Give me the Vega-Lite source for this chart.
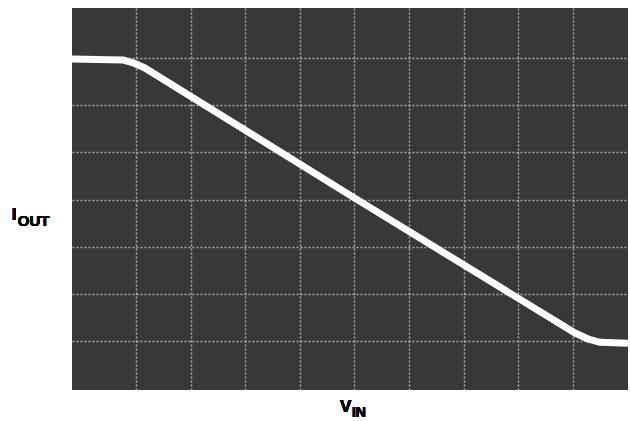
{
  "$schema": "https://vega.github.io/schema/vega-lite/v6.json",
  "width": 556,
  "height": 382,
  "autosize": {"type": "none"},
  "padding": {"left": 72, "top": 8, "right": 2, "bottom": 31},
  "background": "white",
  "config": {
    "view": {"fill": "#383838", "stroke": null},
    "axis": {"labels": false, "ticks": false, "domain": false, "grid": true, "gridColor": "#d0d0d0", "gridWidth": 1.5, "gridDash": [2, 2], "gridOpacity": 0.75}
  },
  "data": {
    "values": [
      {"v": -0.17, "i": 6.98},
      {"v": 0.76, "i": 6.96},
      {"v": 0.95, "i": 6.9},
      {"v": 1.165, "i": 6.79},
      {"v": 4.97, "i": 4.06},
      {"v": 9.04, "i": 1.176},
      {"v": 9.3, "i": 1.04},
      {"v": 9.5, "i": 0.98},
      {"v": 10.01, "i": 0.96}
    ]
  },
  "layer": [
    {
      "mark": {"type": "line", "color": "white", "strokeWidth": 7, "clip": true, "strokeJoin": "round", "strokeCap": "butt"},
      "encoding": {
        "x": {"field": "v", "type": "quantitative", "scale": {"domain": [-0.17, 10.01], "nice": false, "zero": false}, "axis": {"title": null, "values": [1, 2, 3, 4, 5, 6, 7, 8, 9]}},
        "y": {"field": "i", "type": "quantitative", "scale": {"domain": [-0.03, 8.06], "nice": false, "zero": false}, "axis": {"title": null, "values": [1, 2, 3, 4, 5, 6, 7]}}
      }
    },
    {
      "mark": {"type": "text", "font": "Liberation Sans", "fontWeight": "bold", "fontSize": 17, "align": "left", "baseline": "alphabetic", "color": "black"},
      "encoding": {"x": {"datum": -1.271, "title": null}, "y": {"datum": 3.57, "title": null}, "text": {"value": "I"}}
    },
    {
      "mark": {"type": "text", "font": "Liberation Sans", "fontWeight": "bold", "fontSize": 15, "align": "left", "baseline": "alphabetic", "color": "black"},
      "encoding": {"x": {"datum": -1.161, "title": null}, "y": {"datum": 3.443, "title": null}, "text": {"value": "OUT"}}
    },
    {
      "mark": {"type": "text", "font": "Liberation Sans", "fontWeight": "bold", "fontSize": 17, "align": "left", "baseline": "alphabetic", "color": "black"},
      "encoding": {"x": {"datum": 4.736, "title": null}, "y": {"datum": -0.498, "title": null}, "text": {"value": "V"}}
    },
    {
      "mark": {"type": "text", "font": "Liberation Sans", "fontWeight": "bold", "fontSize": 14, "align": "left", "baseline": "alphabetic", "color": "black"},
      "encoding": {"x": {"datum": 4.955, "title": null}, "y": {"datum": -0.604, "title": null}, "text": {"value": "IN"}}
    }
  ]
}
